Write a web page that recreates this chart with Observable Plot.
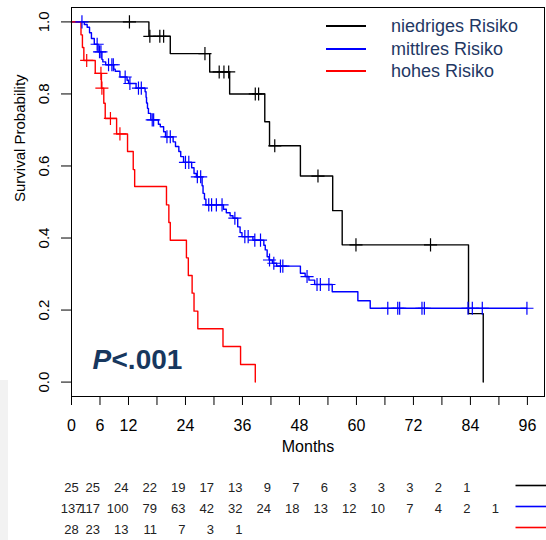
<!DOCTYPE html>
<html>
<head>
<meta charset="utf-8">
<script src="https://cdn.jsdelivr.net/npm/d3@7"></script>
<script src="https://cdn.jsdelivr.net/npm/@observablehq/plot@0.6"></script>
<style>
  body { margin: 0; background: #fff; font-family: "Liberation Sans", Arial, sans-serif; }
  #wrap { position: relative; width: 546px; height: 540px; overflow: hidden; background: #fff; }
  #wrap svg { display: block; }
  .edge { position: absolute; left: 0; top: 380px; width: 8px; height: 160px; background: #f2f2f2; }
  .legend { position: absolute; left: 326px; top: 15px; }
  .legend .row { display: flex; align-items: center; height: 22.5px; }
  .legend .swatch { width: 40px; height: 0; border-top: 2px solid; margin-right: 25px; }
  .legend .name { font-size: 18px; color: #1f3864; white-space: nowrap; line-height: 22px; }
</style>
</head>
<body>
<div id="wrap"></div>
<script>
// risk groups and their colours
const groups = ["niedriges Risiko", "mittlres Risiko", "hohes Risiko"];
const colors = ["#000000", "#0000ff", "#ff0000"];

// Kaplan-Meier steps: event times (months) and survival after each step
const lowTimes = [0, 16.3, 20.8, 29.1, 33.3, 40.7, 41.7, 48.2, 55.0, 57.0, 83.6, 86.7];
const lowSurv  = [1, 0.96, 0.912, 0.861, 0.80, 0.723, 0.656, 0.572, 0.476, 0.381, 0.19, 0];
const lowEnd = 86.7;
const lowCensor = [12.2, 16.5, 18.6, 19.4, 28.1, 31.1, 32.1, 33.1, 38.7, 39.4, 42.8, 51.9, 59.9, 75.6];

const midTimes = [0, 2.7, 3.3, 3.8, 4.2, 4.8, 5.6, 6.4, 6.6, 7.2, 8.9, 9.2, 10.2, 11.7, 12.0, 13.6,
  15.5, 15.7, 15.8, 16.0, 16.2, 16.7, 18.3, 18.7, 19.4, 19.8, 21.4, 21.9, 22.6, 23.0, 23.6,
  25.3, 25.8, 26.3, 27.5, 27.7, 28.0, 28.3, 32.0, 32.6, 33.4, 34.0, 35.0, 35.5, 35.9, 38.2,
  40.5, 40.8, 41.2, 41.6, 42.3, 43.2, 48.2, 49.2, 50.0, 51.2, 54.9, 60.3, 62.9];
const midSurv  = [1, 0.993, 0.985, 0.970, 0.954, 0.938, 0.917, 0.896, 0.889, 0.881, 0.869, 0.863, 0.847, 0.838, 0.829, 0.816,
  0.806, 0.791, 0.775, 0.760, 0.746, 0.728, 0.716, 0.709, 0.695, 0.681, 0.667, 0.654, 0.640, 0.626, 0.610,
  0.595, 0.579, 0.570, 0.545, 0.524, 0.508, 0.492, 0.480, 0.470, 0.462, 0.455, 0.431, 0.415, 0.404, 0.394,
  0.380, 0.367, 0.348, 0.339, 0.330, 0.322, 0.302, 0.293, 0.283, 0.271, 0.251, 0.226, 0.205];
const midEnd = 95.9;
const midCensor = [2.2, 5.4, 5.9, 6.2, 7.8, 8.5, 8.8, 11.3, 12.3, 14.1, 14.7, 17.0, 17.3, 20.1, 20.8,
  24.0, 24.7, 26.5, 27.2, 28.9, 29.5, 30.5, 31.7, 34.4, 36.5, 37.2, 38.6, 39.8, 41.7, 42.6, 44.0, 44.5,
  49.6, 51.7, 52.4, 54.2, 66.6, 68.7, 69.1, 73.8, 74.3, 83.5, 84.4, 86.5, 95.9];

const highTimes = [0, 2.0, 2.3, 2.6, 5.0, 6.3, 6.8, 7.1, 9.5, 11.8, 13.0, 13.3, 20.0, 20.5, 20.8,
  24.2, 24.6, 25.4, 25.8, 26.6, 31.9, 35.6, 38.7];
const highSurv  = [1, 0.964, 0.929, 0.893, 0.857, 0.816, 0.774, 0.732, 0.689, 0.640, 0.590, 0.543, 0.492, 0.443, 0.394,
  0.345, 0.296, 0.247, 0.197, 0.148, 0.099, 0.049, 0];
const highEnd = 38.7;
const highCensor = [3.2, 6.2, 6.4, 8.2, 10.2];

// axis ticks
const xTicks = d3.range(0, 97, 6);
const xTickLabels = [0, 6, 12, 24, 36, 48, 60, 72, 84, 96];
const yTicks = [0, 0.2, 0.4, 0.6, 0.8, 1.0];
const xTitle = "Months";
const yTitle = "Survival Probability";
const pValue = ["P", "<.001"];

// numbers at risk
const riskTimes = d3.range(0, 91, 6);
const riskLow  = [25, 25, 24, 22, 19, 17, 13, 9, 7, 6, 3, 3, 3, 2, 1];
const riskMid  = [137, 117, 100, 79, 63, 42, 32, 24, 18, 13, 12, 10, 7, 4, 2, 1];
const riskHigh = [28, 23, 13, 11, 7, 3, 1];

// ---- build tables ----
const series = [
  {group: groups[0], times: lowTimes, surv: lowSurv, end: lowEnd, censor: lowCensor, risk: riskLow},
  {group: groups[1], times: midTimes, surv: midSurv, end: midEnd, censor: midCensor, risk: riskMid},
  {group: groups[2], times: highTimes, surv: highSurv, end: highEnd, censor: highCensor, risk: riskHigh}
];

function survAt(times, surv, t) {
  let v = surv[0];
  for (let i = 0; i < times.length; i++) if (times[i] <= t) v = surv[i];
  return v;
}

const curveRows = [];
const censorRows = [];
const riskRows = [];
for (const s of series) {
  s.times.forEach((t, i) => curveRows.push({group: s.group, t, s: s.surv[i]}));
  if (s.end > s.times[s.times.length - 1]) curveRows.push({group: s.group, t: s.end, s: s.surv[s.surv.length - 1]});
  s.censor.forEach(t => censorRows.push({group: s.group, t, s: survAt(s.times, s.surv, t)}));
  s.risk.forEach((n, i) => riskRows.push({group: s.group, t: riskTimes[i], n}));
}

const xDomain = [0, 99.6];
const yDomain = [-0.04, 1.04];
const font = "'Liberation Sans', Arial, sans-serif";
const colorScale = {domain: groups, range: colors};

const main = Plot.plot({
  width: 546,
  height: 455,
  marginLeft: 71,
  marginRight: 2,
  marginTop: 7,
  marginBottom: 59,
  style: {fontFamily: font, color: "#000", background: "transparent", overflow: "visible"},
  x: {domain: xDomain},
  y: {domain: yDomain},
  color: colorScale,
  marks: [
    Plot.axisX({ticks: xTicks, tickFormat: d => xTickLabels.includes(d) ? String(d) : "",
      tickSize: 9, tickPadding: 14.5, label: null, fontSize: 16}),
    Plot.axisY({ticks: yTicks, tickFormat: d3.format(".1f"), tickSize: 10, tickPadding: 13,
      tickRotate: -90, label: null, fontSize: 15}),
    Plot.text([yTitle], {text: d => d, frameAnchor: "left", dx: -51, rotate: -90, fontSize: 15}),
    Plot.text([xTitle], {text: d => d, frameAnchor: "bottom", dy: 55, lineAnchor: "bottom", fontSize: 16}),
    Plot.line(curveRows, {x: "t", y: "s", z: "group", stroke: "group", curve: "step-after", strokeWidth: 1.4}),
    Plot.dot(censorRows, {x: "t", y: "s", stroke: "group", symbol: "plus", r: 4.3, strokeWidth: 1.2}),
    Plot.text([pValue[0]], {text: d => d, frameAnchor: "bottom-left", dx: 21, dy: -28, lineAnchor: "bottom",
      textAnchor: "start", fontSize: 28, fontWeight: "bold", fontStyle: "italic", fill: "#17375e"}),
    Plot.text([pValue[1]], {text: d => d, frameAnchor: "bottom-left", dx: 40, dy: -28, lineAnchor: "bottom",
      textAnchor: "start", fontSize: 28, fontWeight: "bold", fill: "#17375e"}),
    Plot.frame({stroke: "#000", strokeWidth: 1})
  ]
});

// numbers at risk: first column centred on 0, the others end at their time
const table = Plot.plot({
  width: 546,
  height: 85,
  marginLeft: 71,
  marginRight: 2,
  marginTop: 0,
  marginBottom: 0,
  style: {fontFamily: font, color: "#000", background: "transparent", overflow: "visible"},
  x: {domain: xDomain, axis: null},
  y: {type: "point", domain: groups, range: [31, 74], padding: 0, axis: null},
  color: colorScale,
  marks: [
    Plot.text(riskRows.filter(d => d.t === 0), {x: "t", y: "group", text: "n", fontSize: 13, textAnchor: "middle", fill: "#222"}),
    Plot.text(riskRows.filter(d => d.t > 0), {x: "t", y: "group", text: "n", fontSize: 13, textAnchor: "end", fill: "#222"}),
    Plot.ruleY(groups, {y: d => d, x1: 93.6, x2: 100.2, stroke: d => d, strokeWidth: 1.6, dy: -2})
  ]
});

const wrap = document.getElementById("wrap");
wrap.appendChild(main);
wrap.appendChild(table);

// light page edge at the lower left
const edge = document.createElement("div");
edge.className = "edge";
wrap.appendChild(edge);

// legend inside the plot area
const legend = document.createElement("div");
legend.className = "legend";
groups.forEach((g, i) => {
  const row = document.createElement("div");
  row.className = "row";
  const sw = document.createElement("div");
  sw.className = "swatch";
  sw.style.borderTopColor = colors[i];
  const name = document.createElement("span");
  name.className = "name";
  name.textContent = g;
  row.appendChild(sw);
  row.appendChild(name);
  legend.appendChild(row);
});
wrap.appendChild(legend);
</script>
</body>
</html>
